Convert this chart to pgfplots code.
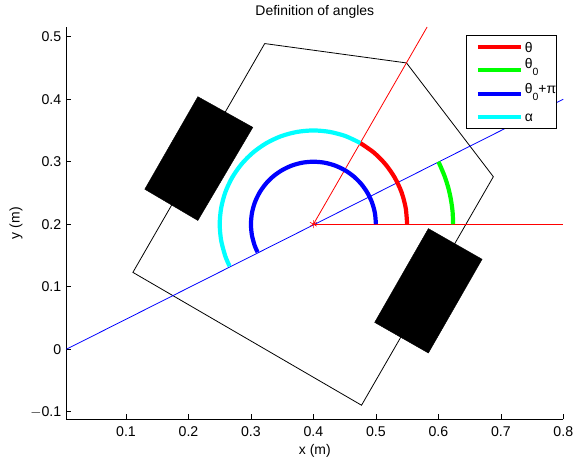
\documentclass[border=0pt]{standalone}
\usepackage{fontspec}
\setmainfont{Liberation Sans}
\usepackage{pgfplots}
\pgfplotsset{compat=1.18}
\definecolor{purecyan}{rgb}{0,1,1}
\definecolor{puregreen}{rgb}{0,1,0}
\newcommand{\subz}{\smash{\raisebox{-7bp}{\fontsize{10.5}{12}\selectfont 0}}}
% legend rows: strut plus fixed text width
\newcommand{\rowa}[1]{\rule[-5bp]{0pt}{20bp}\makebox[25bp][l]{\hspace{2bp}#1}}
\newcommand{\rowb}[1]{\rule[-13bp]{0pt}{24bp}\makebox[25bp][l]{\hspace{2bp}#1}}
\begin{document}
\begin{tikzpicture}[x=1bp,y=1bp]
\path[use as bounding box] (-66.3,-41.7) rectangle (517.7,419.3);
\begin{axis}[
    at={(0,0)},anchor=south west,
    scale only axis,
    width=497bp,height=392.3bp,
    xmin=0.0044,xmax=0.8,ymin=-0.112,ymax=0.5155,
    axis x line*=bottom,axis y line*=left,
    xtick={0.1,0.2,0.3,0.4,0.5,0.6,0.7,0.8},
    ytick={-0.1,0,0.1,0.2,0.3,0.4,0.5},
    yticklabels={$\mathrm{-}$0.1,0,0.1,0.2,0.3,0.4,0.5},
    tick align=inside,
    major tick length=5bp,
    axis line style={line width=0.8bp,-},
    tick style={black,line width=0.6bp},
    /pgf/number format/assume math mode=true,
    every tick label/.append style={font=\fontsize{14.2}{16}\selectfont},
    xticklabel style={yshift=-4bp},
    yticklabel style={xshift=-1.5bp},
    xlabel={x (m)},ylabel={y (m)},
    title={Definition of angles},
    title style={font=\fontsize{14}{16}\selectfont,yshift=-1bp},
    label style={font=\fontsize{14}{16}\selectfont},
    xlabel shift=1bp,
    ylabel shift=1bp,
    legend style={at={(0.988,0.9805)},anchor=north east,draw=black,line width=0.9bp,fill=white,
      font=\fontsize{14}{16}\selectfont,inner xsep=9bp,inner ysep=2bp,row sep=0.5bp,
      nodes={inner sep=0pt,text depth={}}},
    legend cell align=left,
    legend image code/.code={\draw[#1,line width=4bp] (6bp,0bp) -- (49bp,0bp);},
]
\addplot[black,line width=0.8bp,forget plot] coordinates {(0.322,0.489) (0.549,0.458) (0.688,0.276) (0.477,-0.0895) (0.111,0.123) (0.322,0.489)};
\addplot[blue,line width=0.8bp,forget plot] coordinates {(0.0044,0.0) (0.8,0.4)};
\addplot[red,line width=0.8bp,forget plot] coordinates {(0.4,0.2) (0.582,0.5155)};
\addplot[red,line width=0.8bp,forget plot] coordinates {(0.4,0.2) (0.8,0.2)};
\addplot[black,fill=black,forget plot] coordinates {(0.215,0.404) (0.303,0.355) (0.215,0.206) (0.130,0.256)} -- cycle;
\addplot[black,fill=black,forget plot] coordinates {(0.584,0.193) (0.670,0.144) (0.584,-0.006) (0.498,0.043)} -- cycle;
% arcs
\addplot[red,line width=4.2bp,smooth] coordinates {(0.55,0.2) (0.5477,0.2260) (0.5410,0.2513) (0.5299,0.2750) (0.5149,0.2964) (0.4964,0.3149) (0.4750,0.3299)};
\addplot[puregreen,line width=4.2bp,smooth] coordinates {(0.6236,0.2) (0.6228,0.2195) (0.6202,0.2388) (0.6160,0.2579) (0.6101,0.2765) (0.6026,0.2945) (0.6,0.3)};
\addplot[blue,line width=4.2bp,smooth] coordinates {(0.5,0.2) (0.4985,0.2174) (0.4940,0.2342) (0.4866,0.25) (0.4766,0.2643) (0.4643,0.2766) (0.45,0.2866) (0.4342,0.2940) (0.4174,0.2985) (0.4,0.3) (0.3826,0.2985) (0.3658,0.2940) (0.35,0.2866) (0.3357,0.2766) (0.3234,0.2643) (0.3134,0.25) (0.3060,0.2342) (0.3015,0.2174) (0.3,0.2) (0.3015,0.1826) (0.3060,0.1658) (0.3106,0.1553)};
\addplot[purecyan,line width=4.2bp,smooth] coordinates {(0.4750,0.3299) (0.4513,0.3410) (0.4260,0.3477) (0.4,0.35) (0.3740,0.3477) (0.3487,0.3410) (0.3250,0.3299) (0.3036,0.3149) (0.2851,0.2964) (0.2701,0.2750) (0.2590,0.2513) (0.2523,0.2260) (0.25,0.2) (0.2523,0.1740) (0.2590,0.1487) (0.2658,0.1329)};
\addplot[red,only marks,mark=asterisk,mark size=4bp,mark options={line width=0.6bp},forget plot] coordinates {(0.4,0.2)};
\legend{\rowa{θ},\rowb{θ\subz},\rowb{θ\subz+π},\rowa{α}}
\end{axis}
\end{tikzpicture}
\end{document}
